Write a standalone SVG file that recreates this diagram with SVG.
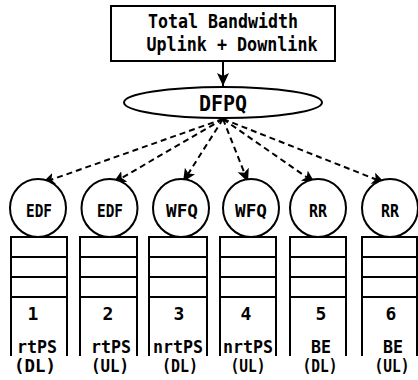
<svg xmlns="http://www.w3.org/2000/svg" width="418" height="380" viewBox="0 0 418 380">
<style>
  .shape { fill: #fff; stroke: #000; stroke-width: 2; }
  .line { fill: none; stroke: #000; stroke-width: 2; }
  .dash { fill: none; stroke: #000; stroke-width: 2; stroke-dasharray: 6 4; }
  text { font-family: "DejaVu Sans Mono", "Liberation Mono", monospace; font-weight: bold; fill: #000; text-anchor: middle; }
  .t { font-size: 19px; }
  .big { font-size: 22px; }
  .c { font-size: 17px; }
  .s { font-size: 18px; }
</style>
<defs>
  <marker id="ah" markerUnits="userSpaceOnUse" markerWidth="16" markerHeight="14" refX="13" refY="6" orient="auto">
    <path d="M0,0 L13,6 L0,12 L3,6 Z" fill="#000"/>
  </marker>
</defs>
<g id="bandwidth">
  <rect class="shape" x="111" y="6" width="224" height="55"/>
  <text class="t" x="223" y="28" textLength="150" lengthAdjust="spacingAndGlyphs">Total Bandwidth</text>
  <text class="t" x="232" y="51" textLength="171" lengthAdjust="spacingAndGlyphs">Uplink + Downlink</text>
</g>
<g id="dfpq">
  <ellipse class="shape" cx="223" cy="102.5" rx="99" ry="15.5"/>
  <text class="big" x="223" y="111" textLength="48" lengthAdjust="spacingAndGlyphs">DFPQ</text>
</g>
<g id="connectors">
  <line class="line" x1="223" y1="61" x2="223" y2="86" marker-end="url(#ah)"/>
  <line class="dash" x1="223" y1="119" x2="42" y2="183" marker-end="url(#ah)"/>
  <line class="dash" x1="223" y1="119" x2="113" y2="183" marker-end="url(#ah)"/>
  <line class="dash" x1="223" y1="119" x2="183" y2="182" marker-end="url(#ah)"/>
  <line class="dash" x1="223" y1="119" x2="248" y2="182" marker-end="url(#ah)"/>
  <line class="dash" x1="223" y1="119" x2="315" y2="183" marker-end="url(#ah)"/>
  <line class="dash" x1="223" y1="119" x2="385" y2="183" marker-end="url(#ah)"/>
</g>
<g id="q1">
  <ellipse class="shape" cx="38" cy="208" rx="28" ry="29"/>
  <text class="c" x="39" y="217" textLength="26" lengthAdjust="spacingAndGlyphs">EDF</text>
  <path class="line" d="M11,356 V237 H67 V356 M11,257 H67 M11,277 H67 M11,297 H67"/>
  <text class="s" x="33" y="320">1</text>
  <text class="s" x="37" y="353" textLength="40" lengthAdjust="spacingAndGlyphs">rtPS</text>
  <text class="s" x="35" y="372" textLength="42" lengthAdjust="spacingAndGlyphs">(DL)</text>
</g>
<g id="q2">
  <ellipse class="shape" cx="109.5" cy="208" rx="28" ry="29"/>
  <text class="c" x="110" y="217" textLength="26" lengthAdjust="spacingAndGlyphs">EDF</text>
  <path class="line" d="M80,356 V237 H137 V356 M80,257 H137 M80,277 H137 M80,297 H137"/>
  <text class="s" x="108" y="320">2</text>
  <text class="s" x="111" y="353" textLength="40" lengthAdjust="spacingAndGlyphs">rtPS</text>
  <text class="s" x="110" y="372" textLength="38" lengthAdjust="spacingAndGlyphs">(UL)</text>
</g>
<g id="q3">
  <ellipse class="shape" cx="181" cy="208" rx="28" ry="29"/>
  <text class="c" x="182" y="217" textLength="32" lengthAdjust="spacingAndGlyphs">WFQ</text>
  <path class="line" d="M149,356 V237 H207 V356 M149,257 H207 M149,277 H207 M149,297 H207"/>
  <text class="s" x="179" y="320">3</text>
  <text class="s" x="178" y="353" textLength="50" lengthAdjust="spacingAndGlyphs">nrtPS</text>
  <text class="s" x="180" y="372" textLength="36" lengthAdjust="spacingAndGlyphs">(DL)</text>
</g>
<g id="q4">
  <ellipse class="shape" cx="251" cy="208" rx="28" ry="29"/>
  <text class="c" x="251" y="217" textLength="32" lengthAdjust="spacingAndGlyphs">WFQ</text>
  <path class="line" d="M220,356 V237 H276 V356 M220,257 H276 M220,277 H276 M220,297 H276"/>
  <text class="s" x="246" y="320">4</text>
  <text class="s" x="248" y="353" textLength="50" lengthAdjust="spacingAndGlyphs">nrtPS</text>
  <text class="s" x="248" y="372" textLength="35" lengthAdjust="spacingAndGlyphs">(UL)</text>
</g>
<g id="q5">
  <ellipse class="shape" cx="318" cy="208" rx="28" ry="29"/>
  <text class="c" x="318" y="217" textLength="18" lengthAdjust="spacingAndGlyphs">RR</text>
  <path class="line" d="M290,356 V237 H346 V356 M290,257 H346 M290,277 H346 M290,297 H346"/>
  <text class="s" x="321" y="320">5</text>
  <text class="s" x="321" y="353" textLength="20" lengthAdjust="spacingAndGlyphs">BE</text>
  <text class="s" x="320" y="372" textLength="35" lengthAdjust="spacingAndGlyphs">(DL)</text>
</g>
<g id="q6">
  <ellipse class="shape" cx="390" cy="208" rx="28" ry="29"/>
  <text class="c" x="390" y="217" textLength="18" lengthAdjust="spacingAndGlyphs">RR</text>
  <path class="line" d="M362,356 V237 H417 V356 M362,257 H417 M362,277 H417 M362,297 H417"/>
  <text class="s" x="391" y="320">6</text>
  <text class="s" x="393" y="353" textLength="20" lengthAdjust="spacingAndGlyphs">BE</text>
  <text class="s" x="392" y="372" textLength="35" lengthAdjust="spacingAndGlyphs">(UL)</text>
</g>
</svg>
